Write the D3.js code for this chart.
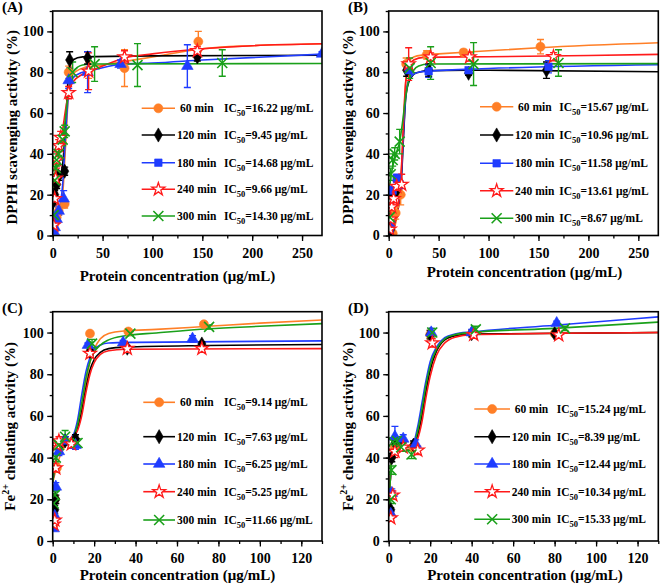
<!DOCTYPE html>
<html><head><meta charset="utf-8">
<script src="https://cdn.jsdelivr.net/npm/d3@7"></script>
<style>
body{margin:0;background:#fff}
svg{display:block}
text{font-family:"Liberation Serif","Times New Roman",serif;font-weight:bold;fill:#000}
</style>
</head><body>
<svg id="chart" width="661" height="588"></svg>
<script>
// ---------------- DATA ----------------
const seriesNames = ["60 min", "120 min", "180 min", "240 min", "300 min"];
const seriesColors = ["#ff7f27", "#000000", "#1f3cff", "#ff1a1a", "#1aa01a"];

const ic50A = ["16.22", "9.45", "14.68", "9.66", "14.30"];
const ic50B = ["15.67", "10.96", "11.58", "13.61", "8.67"];
const ic50C = ["9.14", "7.63", "6.25", "5.25", "11.66"];
const ic50D = ["15.24", "8.39", "12.44", "10.34", "15.33"];

const ticksDPPH_x = [0, 50, 100, 150, 200, 250];
const ticksFe_x = [0, 20, 40, 60, 80, 100, 120];
const ticks_y = [0, 20, 40, 60, 80, 100];

// points: [concentration, activity, error]
const ptsA60 = [[1,3,1],[2,6,1.5],[4,9,2],[6,12,2],[12,15.5,2],[16,80,3],[36,81,4],[72,82,9],[146,95,5]];
const ptsA120 = [[1,17,2],[2,20,2],[4,25,2],[6,29,2],[12,31.5,2],[17,86,4],[35,87,3],[145,87.5,2]];
const ptsA180 = [[1,2,1],[2,4,1],[4,8,2],[6,12,2],[11,18,4],[16,76,4],[35,80,10],[68,84,2],[135,83,10.5],[270,89,1]];
const ptsA240 = [[1,5,2],[2,18,3],[3,28,4],[4,37,4],[6,44,3],[8,48,3],[16,70,3],[36,80.5,9],[72,87.5,3],[145,90.5,2]];
const ptsA300 = [[1,10,2],[2,27,3],[3,33,3],[4,37,3],[6,40,3],[10,47,3],[12,51,3],[20,80,5],[42,84,8.5],[85,83.5,10.5],[170,84.5,6.5]];

const fitA60 = [[0,3],[5,8],[10,20],[13,45],[16,70],[20,79],[30,82],[50,83.5],[100,87.5],[150,91.5],[200,93],[275,94]];
const fitA120 = [[0,12],[5,25],[10,35],[13,55],[16,80],[20,86],[30,87.5],[100,88],[275,88.3]];
const fitA180 = [[0,2],[5,10],[10,25],[13,50],[16,70],[20,77],[30,80],[40,81],[70,84],[100,84.5],[150,86],[275,89]];
const fitA240 = [[0,15],[3,30],[6,42],[10,52],[13,62],[16,70],[20,75],[30,79],[40,81],[72,87],[100,89],[150,91.5],[200,93],[275,94]];
const fitA300 = [[0,22],[3,33],[6,40],[10,48],[13,58],[16,72],[20,80],[30,83.5],[40,84],[275,84.3]];

const ptsB60 = [[1,1,1],[4,1,1],[7,11,3],[12,20,5],[17.5,84,3],[38,88.5,2],[75,89.7,1.5],[152,92.5,3.5]];
const ptsB120 = [[1,2,1],[2,3,1],[4,20,2],[8,22,2],[18,81,3],[40,81,3],[80,79.5,1],[158,81,4]];
const ptsB180 = [[1,3,1],[2,5,1],[4,22,2],[8,28,2],[11,25,2],[20,81,2],[40,80.5,3],[80,81,1],[160,82.7,3]];
const ptsB240 = [[1,3,1],[2,8,2],[3,14,2],[5,18,3],[8,24,3],[13,25,5],[20,84,8],[42,87.5,2],[81,87.5,2],[165,87.6,2]];
const ptsB300 = [[1,9,2],[2,30,3],[4,37,3],[6,40,3],[11,46,6],[21,82,5],[42,84.5,8],[85,84,10.5],[170,84.5,6.5]];

const fitB60 = [[0,0],[5,3],[10,15],[13,35],[15,55],[17,75],[20,85],[25,87.5],[35,88.5],[50,89],[100,90.5],[150,92],[275,94.5]];
const fitB120 = [[0,0],[5,5],[10,15],[13,30],[15,50],[17,67],[20,75],[25,79],[30,80],[40,80.8],[100,81],[275,80.2]];
const fitB180 = [[0,0],[5,5],[10,16],[13,32],[15,52],[17,68],[20,76],[25,79],[30,80],[40,80.5],[100,81.8],[275,83.7]];
const fitB240 = [[0,0],[5,5],[10,16],[13,35],[15,58],[17,75],[20,83],[25,86],[35,87.3],[100,87.6],[200,88.2],[275,88.8]];
const fitB300 = [[0,20],[2,28],[5,36],[8,41],[11,46],[14,56],[17,68],[20,76],[25,81],[30,83],[40,84],[275,84.2]];

const ptsC60 = [[0.5,8,1],[1,20,2],[2,35,2],[4,46,2],[9,47,2],[18,99.5,1],[36.5,100.5,1],[73,104,1]];
const ptsC120 = [[0.5,10,1],[1,15,2],[1.5,20,2],[3,45,2],[6,48,2],[11,49,2],[18,91,2],[36,92.5,1],[72,94.5,1]];
const ptsC180 = [[0.5,6,1],[1,12,2],[1.5,26,2],[3,43,2],[6,48,2],[11,46,2],[17,94,1],[34,95.2,1],[67.5,97,1.5]];
const ptsC240 = [[0.5,8,1],[1,10,2],[1.5,35,2],[2,46,2],[3,48,2],[9,46.5,2],[18,90,2],[36,92.3,1.5],[72,92.3,1.5]];
const ptsC300 = [[0.5,18,1],[1,22,2],[1.5,40,2],[3,46,2],[6,50,3],[12,47,2],[19,94.7,2],[37.5,99.5,1],[75.5,102.7,1]];

const fitC60 = [[0,28],[1,32],[2,36],[4,42],[7,47],[10,50],[12,55],[14,64],[16,76],[18,86],[20,92],[23,97],[27,99.5],[35,100.8],[50,101.5],[75,103],[100,104.5],[130,106]];
const fitC120 = [[0,28],[1,36],[2,41],[4,45],[7,48],[10,50],[12,54],[14,62],[16,73],[18,82],[20,87],[23,90.5],[27,92.3],[35,93],[75,93.8],[130,94.3]];
const fitC180 = [[0,28],[1,36],[2,41],[4,45],[7,48],[10,51],[12,58],[14,70],[16,81],[18,88],[20,92],[23,94],[27,95],[40,95.3],[130,96]];
const fitC240 = [[0,28],[1,36],[2,41],[4,45],[7,48],[10,50],[12,53],[14,60],[16,71],[18,80],[20,85.5],[23,89.5],[27,91.3],[35,92],[130,92.3]];
const fitC300 = [[0,28],[1,36],[2,41],[4,45],[7,48],[10,50],[12,56],[14,66],[16,78],[18,86],[20,90.5],[23,94],[27,96.5],[35,98.5],[50,99.8],[75,101.8],[100,103],[130,104.3]];

const ptsD60 = [[1,12,1],[1.5,22,2],[3,45,2],[6,47,2],[12,45,2],[20,99,2],[40,99.5,1],[80,99.5,1]];
const ptsD120 = [[1,15,1],[1.5,40,2],[3,47,2],[6,47,2],[12,46,2],[20,99,2],[40,99.5,1.5],[80,99.5,1]];
const ptsD180 = [[1,13,1],[1.5,23,2],[3,50,5],[7,49,2],[13,46.5,2],[20.5,100,2],[40,100,1.5],[81,104.5,1]];
const ptsD240 = [[1,11,1],[2,22,2],[3,43,3],[7,45,2],[14,43.5,2],[21,95,2],[41,99,1],[82,98.8,1]];
const ptsD300 = [[1,20,2],[1.3,34,2],[2,47.5,2],[4,48,2],[6,45,2],[11,41.5,2],[21,100,2],[42,101.5,1.5],[85,102,1]];

const fitD60 = [[0,15],[0.8,30],[1.5,42],[3,45],[6,45],[10,45],[12,46],[14,51],[16,60],[18,72],[20,82],[23,91],[27,96.5],[32,98.5],[40,99.3],[130,100]];
const fitD120 = [[0,15],[0.8,30],[1.5,42],[3,45],[6,45],[10,45],[12,46],[14,51],[16,60],[18,72],[20,82],[23,91],[27,96.5],[32,98.5],[40,99.3],[130,100]];
const fitD180 = [[0,15],[0.8,30],[1.5,42],[3,45],[6,45],[10,45],[12,47],[14,55],[16,66],[18,77],[20,86],[23,93],[27,97.5],[32,99.3],[40,100.3],[80,103.5],[130,107.5]];
const fitD240 = [[0,15],[0.8,30],[1.5,42],[3,44],[6,44],[10,44],[12,45],[14,49],[16,57],[18,69],[20,79],[23,89],[27,95],[32,97.8],[40,99],[130,100]];
const fitD300 = [[0,15],[0.8,30],[1.5,42],[3,45],[6,45],[10,45],[12,46.5],[14,53],[16,63],[18,75],[20,84],[23,92],[27,97],[32,99],[40,100],[80,102],[130,105]];

// ---------------- DRAWING ----------------
const svg = d3.select("#chart");

function markerPath(kind) {
  switch (kind) {
    case "circle": return d3.symbol(d3.symbolCircle, 64)();
    case "diamond": return d3.symbol(d3.symbolDiamond, 58)();
    case "square": return d3.symbol(d3.symbolSquare, 56)();
    case "triangle": return d3.symbol(d3.symbolTriangle, 58)();
    case "star": return d3.symbol(d3.symbolStar, 52)();
    case "x": return "M-5,-5L5,5M-5,5L5,-5";
  }
}
function drawMarker(g, kind, color, cx, cy) {
  const p = g.append("path").attr("d", markerPath(kind)).attr("transform", `translate(${cx},${cy})`);
  if (kind === "star") p.attr("fill", "#fff").attr("stroke", color).attr("stroke-width", 1.3);
  else if (kind === "x") p.attr("fill", "none").attr("stroke", color).attr("stroke-width", 1.6);
  else p.attr("fill", color).attr("stroke", color).attr("stroke-width", 0.6);
}

let clipId = 0;
function drawPanel(p) {
  const g = svg.append("g");
  const x = d3.scaleLinear().domain(p.xDomain).range([p.left, p.right]);
  const y = d3.scaleLinear().domain([0, 110]).range([p.bottom, p.top]);
  const id = "clip" + (clipId++);
  svg.append("clipPath").attr("id", id).append("rect")
    .attr("x", p.left).attr("y", p.top).attr("width", p.right - p.left).attr("height", p.bottom - p.top);

  const line = d3.line().x(d => x(d[0])).y(d => y(d[1])).curve(d3.curveMonotoneX);
  const plot = g.append("g").attr("clip-path", `url(#${id})`);

  p.fits.forEach((f, i) => {
    plot.append("path").attr("d", line(f)).attr("fill", "none")
      .attr("stroke", seriesColors[i]).attr("stroke-width", 1.6);
  });
  p.points.forEach((pts, i) => {
    const c = seriesColors[i];
    pts.forEach(d => {
      const cx = x(d[0]);
      const yt = y(d[1] + d[2]), yb = y(d[1] - d[2]);
      plot.append("line").attr("x1", cx).attr("x2", cx).attr("y1", yt).attr("y2", yb)
        .attr("stroke", c).attr("stroke-width", 1.4);
      [yt, yb].forEach(yy => plot.append("line").attr("x1", cx - 3.5).attr("x2", cx + 3.5)
        .attr("y1", yy).attr("y2", yy).attr("stroke", c).attr("stroke-width", 1.4));
    });
  });
  p.points.forEach((pts, i) => {
    pts.forEach(d => drawMarker(plot, p.markers[i], seriesColors[i], x(d[0]), y(d[1])));
  });

  // axes
  const xMinor = d3.range(p.xDomain[0], p.xDomain[1] + 0.001, p.xStep / 2);
  const yMinor = d3.range(0, 110.001, 10);
  g.append("g").attr("transform", `translate(0,${p.bottom})`)
    .call(d3.axisBottom(x).tickValues(xMinor).tickSize(3).tickFormat("").tickSizeOuter(0))
    .call(a => a.select(".domain").remove()).selectAll("line").attr("stroke-width", 1.3);
  const xa = g.append("g").attr("transform", `translate(0,${p.bottom})`)
    .call(d3.axisBottom(x).tickValues(p.xTicks).tickSize(5.5).tickPadding(7).tickSizeOuter(0));
  xa.select(".domain").remove();
  xa.selectAll("line").attr("stroke-width", 1.3);
  xa.selectAll("text").attr("font-size", 14).attr("font-family", null).attr("fill", "#000");

  g.append("g").attr("transform", `translate(${p.left},0)`)
    .call(d3.axisLeft(y).tickValues(yMinor).tickSize(3).tickFormat("").tickSizeOuter(0))
    .call(a => a.select(".domain").remove()).selectAll("line").attr("stroke-width", 1.3);
  const ya = g.append("g").attr("transform", `translate(${p.left},0)`)
    .call(d3.axisLeft(y).tickValues(ticks_y).tickSize(5.5).tickPadding(3.5).tickSizeOuter(0));
  ya.select(".domain").remove();
  ya.selectAll("line").attr("stroke-width", 1.3);
  ya.selectAll("text").attr("font-size", 14).attr("font-family", null).attr("fill", "#000");

  g.append("rect").attr("x", p.left).attr("y", p.top).attr("width", p.right - p.left)
    .attr("height", p.bottom - p.top).attr("fill", "none").attr("stroke", "#000").attr("stroke-width", 1.6);

  // panel tag
  g.append("text").attr("x", p.tagX).attr("y", p.tagY).attr("font-size", 15).text(p.tag);

  // x title
  g.append("text").attr("x", p.xTitleX).attr("y", p.xTitleY).attr("text-anchor", "middle")
    .attr("font-size", 15).text("Protein concentration (μg/mL)");

  // y title
  const yt = g.append("text").attr("transform", `translate(${p.yTitleX},${(p.top + p.bottom) / 2 + p.yTitleShift}) rotate(-90)`)
    .attr("text-anchor", "middle").attr("font-size", 15);
  if (p.fe) {
    yt.append("tspan").text("Fe");
    yt.append("tspan").attr("font-size", 10).attr("dy", -6).text("2+");
    yt.append("tspan").attr("dy", 6).text(" chelating activity (%)");
  } else {
    yt.text("DPPH scavenging activity (%)");
  }

  // legend
  const lg = g.append("g");
  p.legendY.forEach((ly, i) => {
    const c = seriesColors[i];
    lg.append("line").attr("x1", p.legX1).attr("x2", p.legX2).attr("y1", ly).attr("y2", ly)
      .attr("stroke", c).attr("stroke-width", 1.6);
    drawMarker(lg, p.legendMarkers[i], c, (p.legX1 + p.legX2) / 2, ly);
    lg.append("text").attr("x", p.legTextX + (i === 0 ? 3 : 0)).attr("y", ly + 4).attr("font-size", 11.5)
      .text(seriesNames[i]);
    const t = lg.append("text").attr("x", p.legIcX).attr("y", ly + 4).attr("font-size", 11.5);
    t.append("tspan").text("IC");
    t.append("tspan").attr("font-size", 8.5).attr("dy", 4).text("50");
    t.append("tspan").attr("dy", -4).text("=" + p.ic50[i] + " μg/mL");
  });
}

const dpphMarkersA = ["circle", "diamond", "triangle", "star", "x"];
const dpphLegendA = ["circle", "diamond", "square", "star", "x"];
const dpphMarkersB = ["circle", "diamond", "square", "star", "x"];
const feMarkers = ["circle", "diamond", "triangle", "star", "x"];

drawPanel({
  left: 52.7, right: 322, top: 11, bottom: 235.5, xDomain: [0, 270], xTicks: ticksDPPH_x, xStep: 50,
  fits: [fitA60, fitA120, fitA180, fitA240, fitA300],
  points: [ptsA60, ptsA120, ptsA180, ptsA240, ptsA300],
  markers: dpphMarkersA, legendMarkers: dpphLegendA, ic50: ic50A,
  tag: "(A)", tagX: 2, tagY: 12,
  xTitleX: 177.5, xTitleY: 281, yTitleX: 17, yTitleShift: 4, fe: false,
  legendY: [108.3, 135, 162.7, 189.3, 216], legX1: 141.7, legX2: 175, legTextX: 177, legIcX: 224
});
drawPanel({
  left: 388.7, right: 658.3, top: 11, bottom: 235.5, xDomain: [0, 270], xTicks: ticksDPPH_x, xStep: 50,
  fits: [fitB60, fitB120, fitB180, fitB240, fitB300],
  points: [ptsB60, ptsB120, ptsB180, ptsB240, ptsB300],
  markers: dpphMarkersB, legendMarkers: dpphMarkersB, ic50: ic50B,
  tag: "(B)", tagX: 348, tagY: 12,
  xTitleX: 524.5, xTitleY: 277, yTitleX: 353, yTitleShift: 4, fe: false,
  legendY: [106.7, 135, 163.3, 190.7, 218.3], legX1: 480, legX2: 513.3, legTextX: 515, legIcX: 559.3
});
drawPanel({
  left: 52.7, right: 322, top: 311.7, bottom: 541, xDomain: [0, 130], xTicks: ticksFe_x, xStep: 20,
  fits: [fitC60, fitC120, fitC180, fitC240, fitC300],
  points: [ptsC60, ptsC120, ptsC180, ptsC240, ptsC300],
  markers: feMarkers, legendMarkers: feMarkers, ic50: ic50C,
  tag: "(C)", tagX: 2, tagY: 313,
  xTitleX: 177.5, xTitleY: 580, yTitleX: 15, yTitleShift: 0, fe: true,
  legendY: [402.3, 436.7, 464, 491.7, 520], legX1: 143.3, legX2: 175, legTextX: 177, legIcX: 224
});
drawPanel({
  left: 388.7, right: 658.3, top: 311.7, bottom: 541, xDomain: [0, 130], xTicks: ticksFe_x, xStep: 20,
  fits: [fitD60, fitD120, fitD180, fitD240, fitD300],
  points: [ptsD60, ptsD120, ptsD180, ptsD240, ptsD300],
  markers: feMarkers, legendMarkers: feMarkers, ic50: ic50D,
  tag: "(D)", tagX: 348, tagY: 313,
  xTitleX: 525, xTitleY: 580, yTitleX: 353, yTitleShift: 0, fe: true,
  legendY: [409, 436.7, 464, 491.7, 519.3], legX1: 474.3, legX2: 510, legTextX: 511.7, legIcX: 556.7
});
</script>
</body></html>
